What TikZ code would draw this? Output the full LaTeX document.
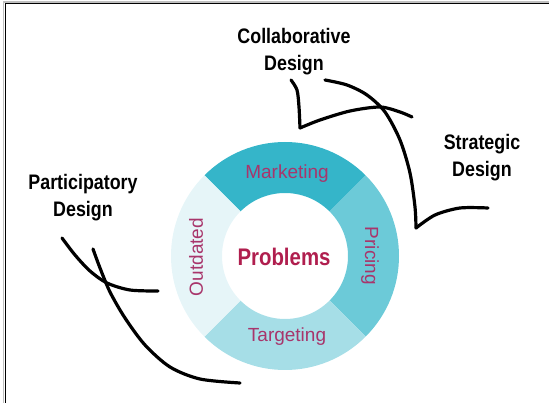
\documentclass[tikz,border=0pt]{standalone}
\usepackage{fontspec}
\setmainfont{Liberation Sans}
\newfontfamily\condfont{Liberation Sans}[FakeStretch=0.85]
\usepackage{tikz}
\definecolor{mktcol}{HTML}{35B5C9}
\definecolor{prccol}{HTML}{6CCAD8}
\definecolor{tgtcol}{HTML}{A6DEE7}
\definecolor{oldcol}{HTML}{E6F5F8}
\definecolor{labcol}{HTML}{A8356B}
\definecolor{probcol}{HTML}{B01E4E}

\begin{document}
\begin{tikzpicture}[x=1pt,y=-1pt,
	penline/.style={line width=3.2pt,line cap=round,line join=round},
	seglabel/.style={text=labcol,font=\fontsize{19}{21}\selectfont},
	designlabel/.style={align=center,font=\condfont\bfseries\fontsize{21}{27}\selectfont}]
	\def\Rout{114}
	\def\Rin{63}

	\useasboundingbox (0,0) rectangle (549,403);

	% frame
	\draw[gray!50,line width=1.2pt] (3.8,403) -- (3.8,2) -- (549,2);
	\draw[black,line width=1pt] (5.4,403) -- (5.4,3.6) -- (549,3.6);

	% ring
	\begin{scope}[shift={(285,256)}]
		\foreach \a/\b/\c in {-135/-45/mktcol,-45/45/prccol,45/135/tgtcol,135/225/oldcol}
			\fill[\c] (\a:\Rout) arc[start angle=\a,end angle=\b,radius=\Rout]
				-- (\b:\Rin) arc[start angle=\b,end angle=\a,radius=\Rin] -- cycle;
	\end{scope}

	\node[text=probcol,font=\condfont\bfseries\fontsize{24}{26}\selectfont] (problems) at (284,257) {Problems};
	\node[seglabel] (marketing) at (287,174) {Marketing};
	\node[seglabel] (targeting) at (287,337) {Targeting};
	\node[seglabel,rotate=90] (outdated) at (196,257) {Outdated};
	\node[seglabel,rotate=-90] (pricing) at (370,256) {Pricing};

	\node[designlabel] (collab) at (294,52) {Collaborative\\Design};
	\node[designlabel] (strat) at (482,158) {Strategic\\Design};
	\node[designlabel] (partic) at (83,198) {Participatory\\Design};

	% hand drawn strokes
	\draw[penline] plot[smooth] coordinates {(291,80) (297,90) (299,107) (300,128)};
	\draw[penline] plot[smooth] coordinates {(300,128) (320,120) (350,111) (380,107) (400,112) (412,117)};
	\draw[penline] plot[smooth] coordinates {(325,80) (347,85) (367,95) (385,112) (400,140) (410,173) (415,207) (416,228)};
	\draw[penline] plot[smooth] coordinates {(416,228) (435,215) (460,208) (488,208)};
	\draw[penline] plot[smooth] coordinates {(62,238) (75,255) (90,271) (107,283) (130,290) (158,291)};
	\draw[penline] plot[smooth] coordinates {(93,249) (100,268) (110,292) (125,318) (145,345) (170,367) (200,379) (240,383)};
\end{tikzpicture}
\end{document}
